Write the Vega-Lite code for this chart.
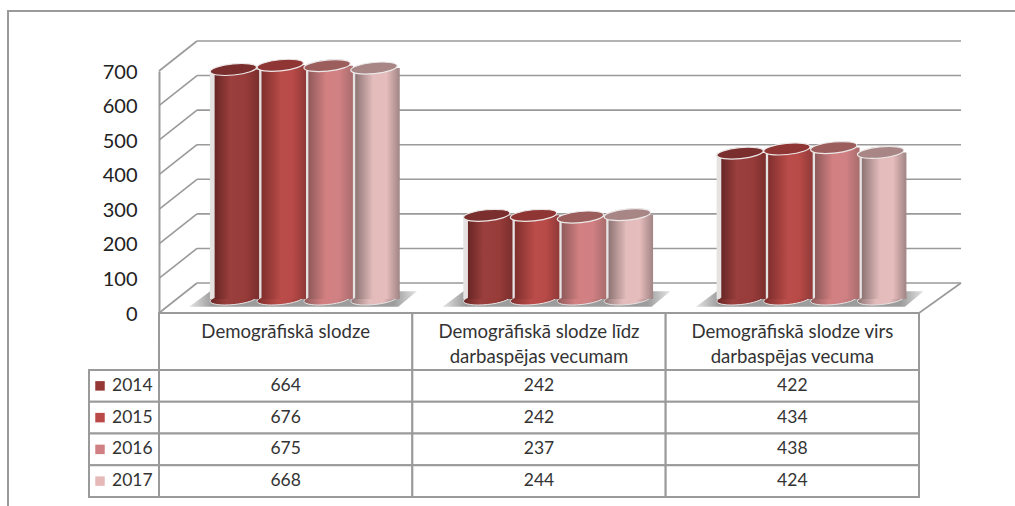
{
"$schema":"https://vega.github.io/schema/vega-lite/v6.json",
"width":1012,"height":500,
"autosize":{"type":"none"},
"padding":{"left":8,"top":11,"right":0,"bottom":0},
"background":"white",
"view":{"stroke":"#9a9a9a","strokeWidth":2,"fill":"white"},
"config":{"text":{"font":"Lato"},"axis":{"labelFont":"Lato"}},
"datasets":{
"rows":[
{"kategorija":"Demogrāfiskā slodze","gads":"2014","vertiba":664},
{"kategorija":"Demogrāfiskā slodze","gads":"2015","vertiba":676},
{"kategorija":"Demogrāfiskā slodze","gads":"2016","vertiba":675},
{"kategorija":"Demogrāfiskā slodze","gads":"2017","vertiba":668},
{"kategorija":"Demogrāfiskā slodze līdz\ndarbaspējas vecumam","gads":"2014","vertiba":242},
{"kategorija":"Demogrāfiskā slodze līdz\ndarbaspējas vecumam","gads":"2015","vertiba":242},
{"kategorija":"Demogrāfiskā slodze līdz\ndarbaspējas vecumam","gads":"2016","vertiba":237},
{"kategorija":"Demogrāfiskā slodze līdz\ndarbaspējas vecumam","gads":"2017","vertiba":244},
{"kategorija":"Demogrāfiskā slodze virs\ndarbaspējas vecuma","gads":"2014","vertiba":422},
{"kategorija":"Demogrāfiskā slodze virs\ndarbaspējas vecuma","gads":"2015","vertiba":434},
{"kategorija":"Demogrāfiskā slodze virs\ndarbaspējas vecuma","gads":"2016","vertiba":438},
{"kategorija":"Demogrāfiskā slodze virs\ndarbaspējas vecuma","gads":"2017","vertiba":424}
],
"skala":[{"v":0},{"v":100},{"v":200},{"v":300},{"v":400},{"v":500},{"v":600},{"v":700}],
"kategorijas":[{"kategorija":"Demogrāfiskā slodze"},{"kategorija":"Demogrāfiskā slodze līdz\ndarbaspējas vecumam"},{"kategorija":"Demogrāfiskā slodze virs\ndarbaspējas vecuma"}],
"gadi":[{"gads":"2014"},{"gads":"2015"},{"gads":"2016"},{"gads":"2017"}]
},
"layer":[
{
"data":{"name":"skala"},
"encoding":{
"y":{"field":"v","type":"quantitative","scale":{"domain":[0,700],"range":[302,60],"nice":false},
"axis":{"values":[0,100,200,300,400,500,600,700],"orient":"left","offset":-151,"title":null,"grid":false,"ticks":false,"domainColor":"#9a9a9a","domainWidth":2,"labelFontSize":20,"labelColor":"#222222","labelPadding":22,"labelOffset":1}},
"y2":{"field":"v"}
},
"layer":[
{"mark":{"type":"rule","color":"#9a9a9a","strokeWidth":1.6,"x2Offset":38,"y2Offset":-30},
"encoding":{"x":{"datum":1,"type":"quantitative","scale":{"domain":[1,4],"range":[151,911]},"axis":null},"x2":{"datum":1}}},
{"mark":{"type":"rule","color":"#9a9a9a","strokeWidth":1.6,"xOffset":38,"x2Offset":42,"yOffset":-30,"y2Offset":-30},
"encoding":{"x":{"datum":1,"type":"quantitative","scale":{"domain":[1,4],"range":[151,911]},"axis":null},"x2":{"datum":4}}},
{"transform":[{"filter":"datum.v === 0"}],
"mark":{"type":"rule","color":"#9a9a9a","strokeWidth":1.6,"x2Offset":42,"y2Offset":-30},
"encoding":{"x":{"datum":4,"type":"quantitative","scale":{"domain":[1,4],"range":[151,911]},"axis":null},"x2":{"datum":4}}}
]
},
{
"data":{"name":"rows"},
"encoding":{
"x":{"field":"kategorija","type":"nominal","sort":null,"scale":{"type":"band","range":[169,929],"paddingInner":0.26,"paddingOuter":0.13},"axis":null},
"xOffset":{"field":"gads","type":"nominal","scale":{"paddingInner":0,"paddingOuter":0}},
"y":{"field":"vertiba","type":"quantitative","stack":null,"scale":{"domain":[0,700],"range":[288,46],"nice":false},"axis":null}
},
"layer":[
{"transform":[{"filter":"datum.gads === '2014'"}],
"mark":{"type":"point","filled":true,"opacity":1,"size":48400,"shape":"M-1.04,.07 L-.85,-.07 L1.03,-.07 L.86,.07 Z",
"fill":{"gradient":"linear","x1":0,"x2":1,"y1":0,"y2":0,"stops":[{"offset":0,"color":"#e4e4e4"},{"offset":0.1,"color":"#9c9c9c"},{"offset":0.9,"color":"#9c9c9c"},{"offset":1,"color":"#e4e4e4"}]}},
"encoding":{"xOffset":null,"y":{"datum":0,"type":"quantitative"}}},
{"mark":{"type":"bar","fill":"#e6e2e2","width":{"band":1}}},
{"mark":{"type":"point","filled":true,"opacity":1,"size":2150,"shape":"M-1,.1 A1,.24 -5.7 1,1 1,-.1 A1,.24 -5.7 1,1 -1,.1 Z","stroke":"#e6e2e2","strokeWidth":1},
"encoding":{"y":{"datum":0,"type":"quantitative"},
"fill":{"condition":[
{"test":"datum.gads === '2014'","value":{"gradient":"linear","x1":0,"x2":1,"y1":0,"y2":0,"stops":[{"offset":0,"color":"#682625"},{"offset":0.35,"color":"#9a3f3d"},{"offset":0.7,"color":"#983c3a"},{"offset":1,"color":"#792e2d"}]}},
{"test":"datum.gads === '2015'","value":{"gradient":"linear","x1":0,"x2":1,"y1":0,"y2":0,"stops":[{"offset":0,"color":"#7f2f2d"},{"offset":0.45,"color":"#ba4c49"},{"offset":0.7,"color":"#b84a47"},{"offset":1,"color":"#8f3a38"}]}},
{"test":"datum.gads === '2016'","value":{"gradient":"linear","x1":0,"x2":1,"y1":0,"y2":0,"stops":[{"offset":0,"color":"#8f5a5a"},{"offset":0.4,"color":"#d38082"},{"offset":0.7,"color":"#d08083"},{"offset":1,"color":"#a86c6c"}]}}
],"value":{"gradient":"linear","x1":0,"x2":1,"y1":0,"y2":0,"stops":[{"offset":0,"color":"#8e7474"},{"offset":0.4,"color":"#e3bcbc"},{"offset":0.7,"color":"#e6bcbc"},{"offset":1,"color":"#a08484"}]}}}},
{"mark":{"type":"bar","width":{"band":0.95}},
"encoding":{"fill":{"condition":[
{"test":"datum.gads === '2014'","value":{"gradient":"linear","x1":0,"x2":1,"y1":0,"y2":0,"stops":[{"offset":0,"color":"#682625"},{"offset":0.35,"color":"#9a3f3d"},{"offset":0.7,"color":"#983c3a"},{"offset":1,"color":"#792e2d"}]}},
{"test":"datum.gads === '2015'","value":{"gradient":"linear","x1":0,"x2":1,"y1":0,"y2":0,"stops":[{"offset":0,"color":"#7f2f2d"},{"offset":0.45,"color":"#ba4c49"},{"offset":0.7,"color":"#b84a47"},{"offset":1,"color":"#8f3a38"}]}},
{"test":"datum.gads === '2016'","value":{"gradient":"linear","x1":0,"x2":1,"y1":0,"y2":0,"stops":[{"offset":0,"color":"#8f5a5a"},{"offset":0.4,"color":"#d38082"},{"offset":0.7,"color":"#d08083"},{"offset":1,"color":"#a86c6c"}]}}
],"value":{"gradient":"linear","x1":0,"x2":1,"y1":0,"y2":0,"stops":[{"offset":0,"color":"#8e7474"},{"offset":0.4,"color":"#e3bcbc"},{"offset":0.7,"color":"#e6bcbc"},{"offset":1,"color":"#a08484"}]}}}},
{"mark":{"type":"point","filled":true,"opacity":1,"size":2150,"shape":"M-1,.1 A1,.24 -5.7 1,1 1,-.1 A1,.24 -5.7 1,1 -1,.1 Z","stroke":"#ece8e8","strokeWidth":1.2},
"encoding":{"fill":{"field":"gads","type":"nominal","scale":{"domain":["2014","2015","2016","2017"],"range":["#7a2e2d","#8f3533","#9c5d5d","#a88686"]},"legend":null}}}
]
},
{
"data":{"name":"kategorijas"},
"encoding":{
"x":{"field":"kategorija","type":"nominal","sort":null,"scale":{"type":"band","range":[151,911],"paddingInner":0,"paddingOuter":0},"axis":null},
"y":{"datum":"galvene","type":"nominal","scale":{"type":"band","domain":["galvene"],"range":[302,359],"paddingInner":0,"paddingOuter":0},"axis":null}
},
"layer":[
{"mark":{"type":"rect","fill":"white","stroke":"#9a9a9a","strokeWidth":2}},
{"mark":{"type":"text","fontSize":18.6,"color":"#333333","baseline":"top","lineBreak":"\n","lineHeight":25,"yOffset":-19},
"encoding":{"text":{"field":"kategorija"}}}
]
},
{
"data":{"name":"rows"},
"encoding":{
"x":{"field":"kategorija","type":"nominal","sort":null,"scale":{"type":"band","range":[151,911],"paddingInner":0,"paddingOuter":0},"axis":null},
"y":{"field":"gads","type":"nominal","scale":{"type":"band","domain":["2014","2015","2016","2017"],"range":[359,486],"paddingInner":0,"paddingOuter":0},"axis":null}
},
"layer":[
{"mark":{"type":"rect","fill":"white","stroke":"#9a9a9a","strokeWidth":2}},
{"mark":{"type":"text","fontSize":17.5,"color":"#333333"},"encoding":{"text":{"field":"vertiba","type":"quantitative"}}}
]
},
{
"data":{"name":"gadi"},
"encoding":{
"x":{"datum":"gads","type":"nominal","scale":{"type":"band","domain":["gads"],"range":[81,151],"paddingInner":0,"paddingOuter":0},"axis":null},
"y":{"field":"gads","type":"nominal","scale":{"type":"band","domain":["2014","2015","2016","2017"],"range":[359,486],"paddingInner":0,"paddingOuter":0},"axis":null}
},
"layer":[
{"mark":{"type":"rect","fill":"white","stroke":"#9a9a9a","strokeWidth":2}},
{"mark":{"type":"point","shape":"square","filled":true,"opacity":1,"size":90,"xOffset":-24},
"encoding":{"fill":{"field":"gads","type":"nominal","scale":{"domain":["2014","2015","2016","2017"],"range":["#953735","#b94a48","#d08083","#e6b9b8"]},"legend":null}}},
{"mark":{"type":"text","fontSize":17.5,"color":"#333333","align":"left","xOffset":-12},"encoding":{"text":{"field":"gads"}}}
]
}
],
"resolve":{"scale":{"x":"independent","y":"independent","fill":"independent"}}
}
